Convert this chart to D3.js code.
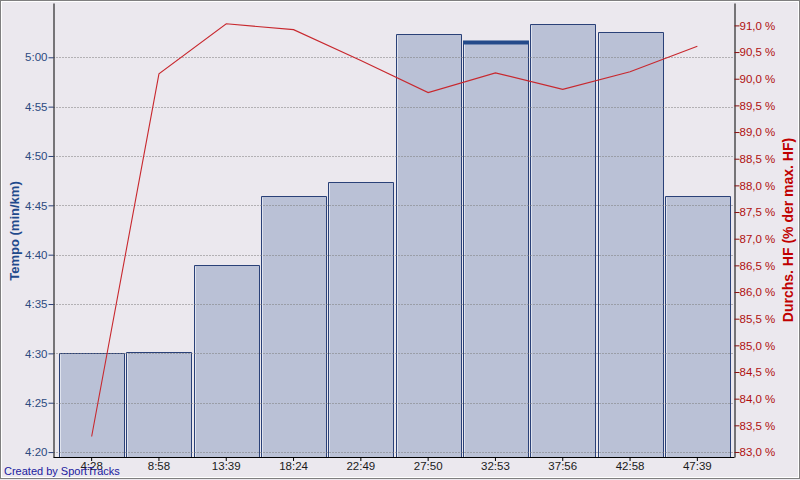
<!DOCTYPE html>
<html>
<head>
<meta charset="utf-8">
<script src="https://cdn.jsdelivr.net/npm/d3@7"></script>
<style>
html,body{margin:0;padding:0;background:#ebe8ee;}
svg{display:block;}
text{font-family:"Liberation Sans",Arial,sans-serif;}
</style>
</head>
<body>
<svg id="chart" width="800" height="480"></svg>
<script>
// ---- data ----
const categories = ["4:28","8:58","13:39","18:24","22:49","27:50","32:53","37:56","42:58","47:39"];
const paceSeconds = [270, 270.1, 279, 285.9, 287.4, 302.4, 301.5, 303.4, 302.6, 285.9];
const hrPercent = [83.29, 90.09, 91.03, 90.92, 90.34, 89.74, 90.11, 89.8, 90.13, 90.61];
const paceTicks = [260, 265, 270, 275, 280, 285, 290, 295, 300];
const hrTicks = [83, 83.5, 84, 84.5, 85, 85.5, 86, 86.5, 87, 87.5, 88, 88.5, 89, 89.5, 90, 90.5, 91];
const highlightIndex = 6;
const leftTitle = "Tempo (min/km)";
const rightTitle = "Durchs. HF (% der max. HF)";
const credit = "Created by SportTracks";

// ---- layout ----
const svg = d3.select("#chart");
const L = 53.5, R = 734.5, T = 3, B = 457;

svg.append("rect").attr("x",0).attr("y",0).attr("width",800).attr("height",480).attr("fill","#ebe8ee");
svg.append("rect").attr("x",1.5).attr("y",1.5).attr("width",797).attr("height",476)
  .attr("fill","none").attr("stroke","#ffffff");
svg.append("rect").attr("x",0.5).attr("y",0.5).attr("width",799).attr("height",478)
  .attr("fill","none").attr("stroke","#7f7f7f");

const x = d3.scaleBand().domain(categories).range([58, 731]).paddingInner(0.034).paddingOuter(0.017);
const yL = d3.scaleLinear().domain([259.5, 305.5]).range([B, T]);
const yR = d3.scaleLinear().domain([82.906, 91.42]).range([B, T]);

const fmtPace = s => { const m = Math.floor(s/60), r = Math.round(s - m*60); return m + ":" + String(r).padStart(2,"0"); };
const fmtHr = v => d3.format(".1f")(v).replace(".", ",") + " %";

// bars
const bars = svg.append("g");
categories.forEach((c,i) => {
  const x0 = Math.round(x(c)) + 0.5, w = Math.round(x.bandwidth()), yt = Math.round(yL(paceSeconds[i])) + 0.5;
  bars.append("rect").attr("x", x0).attr("y", yt).attr("width", w).attr("height", B - yt)
    .attr("fill", "#bac1d6");
  bars.append("line").attr("x1", x0+1).attr("x2", x0+1).attr("y1", yt+1).attr("y2", B)
    .attr("stroke", "#dfe3ee");
  bars.append("path").attr("d", `M${x0},${B}V${yt}H${x0+w}V${B}`)
    .attr("fill","none").attr("stroke","#2a4178").attr("stroke-width",1);
});
// highlight bar marker
{
  const c = categories[highlightIndex];
  bars.append("rect").attr("x", Math.round(x(c))).attr("y", yL(paceSeconds[highlightIndex]) - 2)
    .attr("width", Math.round(x.bandwidth()) + 1).attr("height", 4).attr("fill", "#244a8a");
}

// grid (over bars)
svg.append("g").selectAll("line").data(paceTicks).join("line")
  .attr("x1", L).attr("x2", R)
  .attr("y1", d => Math.round(yL(d)) + 0.5).attr("y2", d => Math.round(yL(d)) + 0.5)
  .attr("stroke", "#7a7a7a").attr("stroke-dasharray", "1,2");

// HR line
svg.append("path").datum(hrPercent)
  .attr("d", d3.line().x((d,i) => x(categories[i]) + x.bandwidth()/2).y(d => yR(d)))
  .attr("fill","none").attr("stroke","#c8282e").attr("stroke-width",1.1);

// axes
const gL = svg.append("g").attr("transform", `translate(${L},0)`)
  .call(d3.axisLeft(yL).tickValues(paceTicks).tickFormat(fmtPace).tickSize(5).tickSizeOuter(0));
gL.select(".domain").attr("stroke","#000");
gL.selectAll(".tick line").attr("stroke","#2a4178");
gL.selectAll("text").attr("fill","#2b4a80").attr("font-size","11.5px").attr("x",-6)
  .style("font-family","'Liberation Sans',Arial,sans-serif");

const gR = svg.append("g").attr("transform", `translate(${R},0)`)
  .call(d3.axisRight(yR).tickValues(hrTicks).tickFormat(fmtHr).tickSize(5).tickSizeOuter(0));
gR.select(".domain").attr("stroke","#000");
gR.selectAll(".tick line").attr("stroke","#8a1010");
gR.selectAll("text").attr("fill","#b01010").attr("font-size","11.5px").attr("x",5)
  .style("font-family","'Liberation Sans',Arial,sans-serif");

const gB = svg.append("g").attr("transform", `translate(0,${B})`)
  .call(d3.axisBottom(x).tickSize(4).tickSizeOuter(0));
gB.select(".domain").attr("d", `M${L},0.5H${R}`).attr("stroke","#000");
gB.selectAll(".tick line").attr("stroke","#000");
gB.selectAll("text").attr("fill","#1a1a1a").attr("font-size","11.5px").attr("y",5)
  .style("font-family","'Liberation Sans',Arial,sans-serif");

// titles
svg.append("text").attr("transform","translate(19,231) rotate(-90)").attr("text-anchor","middle")
  .attr("font-size","13px").attr("font-weight","bold").attr("fill","#1f4a8c").text(leftTitle);
svg.append("text").attr("transform","translate(793,230) rotate(-90)").attr("text-anchor","middle")
  .attr("font-size","14px").attr("font-weight","bold").attr("fill","#c00000").text(rightTitle);

svg.append("text").attr("x",4).attr("y",475).attr("font-size","11px").attr("fill","#2020a0").text(credit);
</script>
</body>
</html>
